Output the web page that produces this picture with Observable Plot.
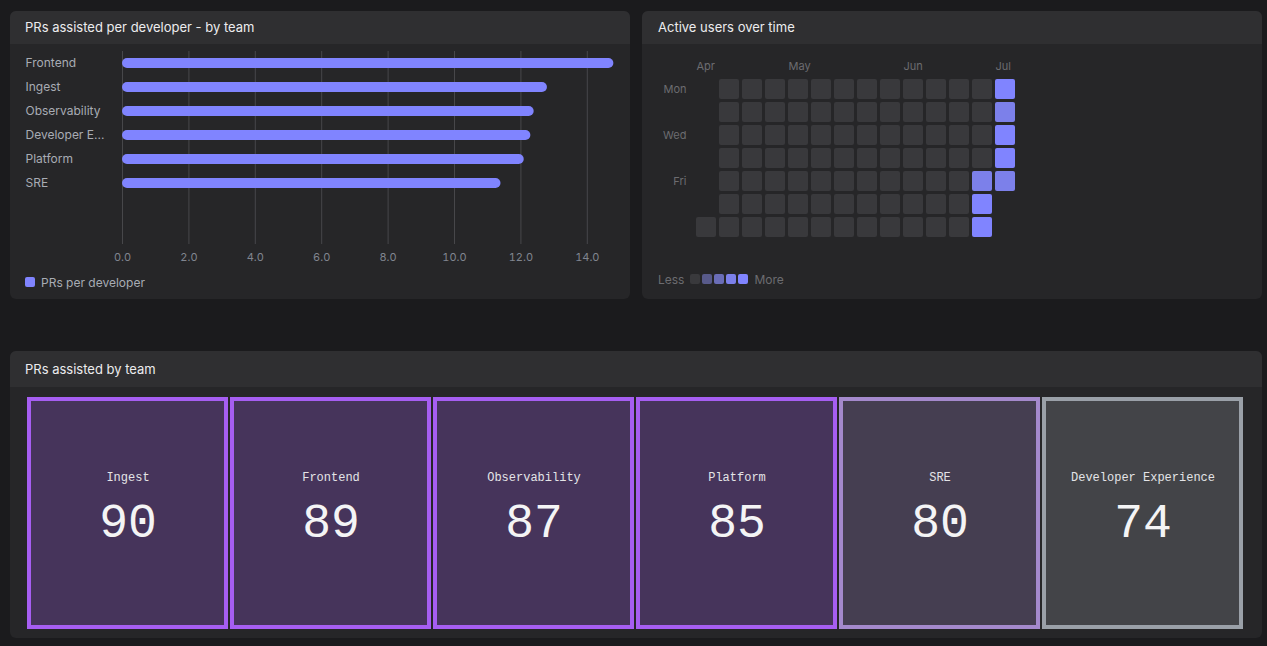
<!DOCTYPE html>
<html>
<head>
<meta charset="utf-8">
<script src="https://cdn.jsdelivr.net/npm/d3@7"></script>
<script src="https://cdn.jsdelivr.net/npm/@observablehq/plot@0.6"></script>
<style>
  html, body { margin: 0; padding: 0; }
  body {
    width: 1267px; height: 646px; overflow: hidden; position: relative;
    background: #1b1b1d; font-family: Inter, "Noto Sans", sans-serif;
  }
  .panel { position: absolute; background: #262628; border-radius: 6px; overflow: hidden; }
  .head {
    height: 33px; line-height: 33px; background: #2f2f31; color: #ececee;
    font-size: 13px; font-weight: 400; padding-left: 15px;
  }
  .body { position: absolute; left: 0; top: 33px; }
  .legend {
    position: absolute; height: 14px; display: flex; align-items: center;
    font-size: 12px; color: #a8acb4;
  }
  .sw { display: inline-block; width: 10px; height: 10px; border-radius: 2px; }
</style>
</head>
<body>

<div class="panel" style="left:10px;top:11px;width:620px;height:288px">
  <div class="head">PRs assisted per developer - by team</div>
  <div class="body" id="bars"></div>
  <div class="legend" id="barLegend" style="left:15px;top:264px"></div>
</div>

<div class="panel" style="left:642px;top:11px;width:620px;height:288px">
  <div class="head" style="padding-left:16px">Active users over time</div>
  <div class="body" id="heat"></div>
  <div class="legend" id="heatLegend" style="left:16px;top:261px;color:#6c6c70"></div>
</div>

<div class="panel" style="left:10px;top:351px;width:1252px;height:287px">
  <div class="head" style="height:36px;line-height:36px">PRs assisted by team</div>
  <div class="body" id="tiles" style="top:36px"></div>
</div>

<script>
// ---- PRs assisted per developer, by team ----
const teams = ["Frontend", "Ingest", "Observability", "Developer Experience", "Platform", "SRE"];
const prsPerDeveloper = [14.8, 12.8, 12.4, 12.3, 12.1, 11.4];
const xTicks = [0, 2, 4, 6, 8, 10, 12, 14];
const barSeriesName = "PRs per developer";
const barColor = "#8084ff";

// ---- Active users per day (Sunday Apr 5 through Friday Jul 3) ----
const firstDay = "2026-04-05";
const lastDay = "2026-07-03";
const activeUsers = [
  0,                    // Sun
  0, 0, 0, 0, 0, 0, 0,  // Mon..Sun
  0, 0, 0, 0, 0, 0, 0,
  0, 0, 0, 0, 0, 0, 0,
  0, 0, 0, 0, 0, 0, 0,
  0, 0, 0, 0, 0, 0, 0,
  0, 0, 0, 0, 0, 0, 0,
  0, 0, 0, 0, 0, 0, 0,
  0, 0, 0, 0, 0, 0, 0,
  0, 0, 0, 0, 0, 0, 0,
  0, 0, 0, 0, 0, 0, 0,
  0, 0, 0, 0, 0, 0, 0,
  0, 0, 0, 0, 5, 6, 6,
  6, 5, 6, 6, 5         // Mon..Fri
];
const dayLabels = ["Mon", "", "Wed", "", "Fri", "", ""];
const levelBreaks = [1, 3, 5, 6];
const levelColors = ["#39393c", "#585a8a", "#6a6db7", "#7c80ea", "#8084ff"];

// ---- PRs assisted by team ----
const tileTeams = ["Ingest", "Frontend", "Observability", "Platform", "SRE", "Developer Experience"];
const prsByTeam = [90, 89, 87, 85, 80, 74];
const tileBreaks = [77, 83];
const tileColors = ["#9aa0a8", "#a489cc", "#a65ef2"];

const baseStyle = {
  background: "transparent",
  color: "#80858f",
  fontFamily: "Inter, 'Noto Sans', sans-serif",
  fontSize: "11px",
  overflow: "visible"
};

// Horizontal bars with rounded ends
const bars = teams.map((team, i) => ({team, value: prsPerDeveloper[i]}));
const shortName = (s) => s.length > 13 ? s.slice(0, 11) + "..." : s;

const barPlot = Plot.plot({
  width: 620, height: 225,
  marginLeft: 112, marginRight: 10, marginTop: 7, marginBottom: 25,
  style: baseStyle,
  x: {domain: [0, 15], label: null},
  y: {domain: teams, range: [7, 151], padding: 0, axis: null},
  marks: [
    Plot.ruleX(xTicks, {stroke: "#47474a", strokeWidth: 1}),
    Plot.barX(bars, {x: "value", y: "team", fill: barColor, rx: 5, insetTop: 7, insetBottom: 7}),
    Plot.axisX({ticks: xTicks, tickSize: 0, tickPadding: 9, label: null, tickFormat: (d) => d.toFixed(1), fontSize: 11}),
    Plot.text(bars, {
      y: "team", text: (d) => shortName(d.team),
      frameAnchor: "left", textAnchor: "start", dx: -97,
      fill: "#a8acb4", fontSize: 12
    })
  ]
});
document.getElementById("bars").append(barPlot);

const barLegend = document.getElementById("barLegend");
barLegend.innerHTML = `<span class="sw" style="background:${barColor};margin-right:6px"></span>${barSeriesName}`;

// Calendar heatmap: one column per week (Monday first), one row per weekday
const days = d3.utcDay.range(new Date(firstDay), d3.utcDay.offset(new Date(lastDay), 1));
const firstMonday = d3.utcMonday.floor(days[0]);
const heat = days.map((date, i) => ({
  date,
  week: d3.utcMonday.count(firstMonday, date),
  day: (date.getUTCDay() + 6) % 7,
  users: activeUsers[i]
}));
const weeks = d3.range(d3.max(heat, (d) => d.week) + 1);
const months = d3.utcMonth.range(d3.utcMonth.floor(days[0]), days[days.length - 1]).map((m) => ({
  week: Math.max(0, d3.utcMonday.count(firstMonday, m)),
  label: d3.utcFormat("%b")(m)
}));
const dayRows = dayLabels.map((label, day) => ({day, label})).filter((d) => d.label);

const heatPlot = Plot.plot({
  width: 620, height: 200,
  marginLeft: 54, marginRight: 244, marginTop: 35, marginBottom: 4,
  style: baseStyle,
  x: {type: "band", domain: weeks, padding: 0, axis: null},
  y: {type: "band", domain: d3.range(7), padding: 0, axis: null},
  color: {type: "threshold", domain: levelBreaks, range: levelColors},
  marks: [
    Plot.cell(heat, {x: "week", y: "day", fill: "users", insetRight: 3, insetBottom: 3, rx: 2}),
    Plot.text(months, {
      x: "week", text: "label", frameAnchor: "top", textAnchor: "start",
      dx: -11.5, dy: -17, fill: "#6c6c70", fontSize: 11
    }),
    Plot.text(dayRows, {
      y: "day", text: "label", frameAnchor: "left", textAnchor: "end",
      dx: -10, dy: -1.5, fill: "#6c6c70", fontSize: 11
    })
  ]
});
document.getElementById("heat").append(heatPlot);

const heatLegend = document.getElementById("heatLegend");
heatLegend.innerHTML =
  `<span style="margin-right:6px">Less</span>` +
  levelColors.map((c) => `<span class="sw" style="background:${c};margin-right:2px"></span>`).join("") +
  `<span style="margin-left:4px">More</span>`;

// Stat tiles, coloured by count
const tiles = tileTeams.map((team, i) => ({team, count: prsByTeam[i]}));
const mono = "'Liberation Mono', 'DejaVu Sans Mono', monospace";

const tilePlot = Plot.plot({
  width: 1252, height: 251,
  marginLeft: 16, marginRight: 18, marginTop: 12, marginBottom: 11,
  style: baseStyle,
  x: {type: "band", domain: tileTeams, padding: 0, axis: null},
  color: {type: "threshold", domain: tileBreaks, range: tileColors},
  marks: [
    Plot.cell(tiles, {
      x: "team", fill: "count", stroke: "count",
      fillOpacity: 0.25, strokeWidth: 4, insetLeft: 3, insetRight: 3
    }),
    Plot.text(tiles, {
      x: "team", text: "team", frameAnchor: "middle", dy: -36,
      fill: "#e4e4e7", fontSize: 12, fontFamily: mono
    }),
    Plot.text(tiles, {
      x: "team", text: (d) => String(d.count), frameAnchor: "middle", dy: 8,
      fill: "#f4f4f5", fontSize: 48, fontFamily: mono
    })
  ]
});
document.getElementById("tiles").append(tilePlot);
</script>
</body>
</html>
